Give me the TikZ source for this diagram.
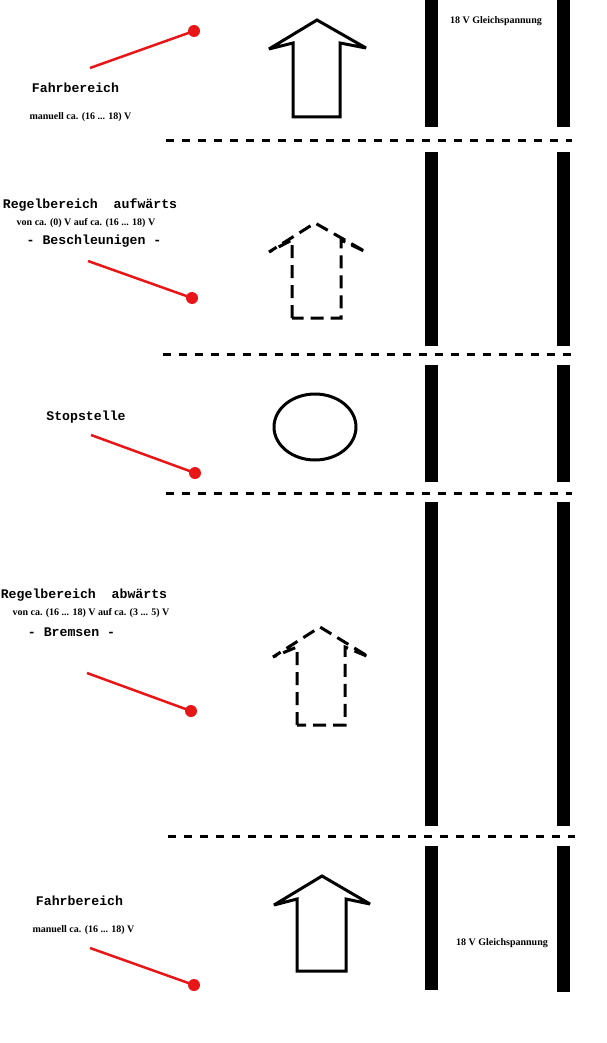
\documentclass[tikz,border=0pt]{standalone}
\usepackage{fontspec}
\setmainfont{Liberation Serif}
\newfontfamily\lmono{Liberation Mono}
\definecolor{ptr}{RGB}{232,22,22}
\begin{document}
\begin{tikzpicture}[x=1pt,y=-1pt,
  rail/.style={fill=black,draw=none},
  sep/.style={line width=3pt,dash pattern=on 8pt off 8pt},
  bigarrow/.style={line width=3pt,line join=miter,miter limit=2.5},
  dasharrow/.style={line width=3pt,dash pattern=on 13pt off 7pt,miter limit=2.5},
  pointer/.style={ptr,line width=2.5pt},
  dot/.style={circle,fill=ptr,inner sep=0pt,minimum size=12pt},
  mono/.style={font=\lmono\bfseries\fontsize{13.2}{15}\selectfont,inner sep=0pt},
  small/.style={font=\bfseries\fontsize{10}{12}\selectfont,inner sep=0pt}]
\useasboundingbox (0,0) rectangle (606,1043);
% rails
\foreach \a/\b in {0/127,152/346,365/482,502/826,846/990}{
  \fill[rail] (425,\a) rectangle (438,\b);}
\foreach \a/\b in {0/127,152/346,365/482,502/826,846/992}{
  \fill[rail] (557,\a) rectangle (570,\b);}
% separators
\coordinate (s1a) at (166,141); \coordinate (s1b) at (572,141);
\coordinate (s2a) at (163,354); \coordinate (s2b) at (572,354);
\coordinate (s3a) at (166,493); \coordinate (s3b) at (572,493);
\coordinate (s4a) at (168,836); \coordinate (s4b) at (575,836);
\draw[sep] (s1a) -- (s1b);
\draw[sep] (s2a) -- (s2b);
\draw[sep] (s3a) -- (s3b);
\draw[sep] (s4a) -- (s4b);
% arrows
\draw[bigarrow] (293,117) -- (293,43) -- (269,49) -- (317,20) -- (366,48) -- (340,43) -- (340,117) -- cycle;
\draw[dasharrow] (292,318) -- (292,240) -- (269,252) -- (315,223) -- (366,252) -- (341,240) -- (341,318) -- cycle;
\draw[line width=3pt] (315,427) ellipse [x radius=41,y radius=33];
\draw[dasharrow] (297,725) -- (297,647) -- (273,657) -- (320,627) -- (369,657) -- (345,647) -- (345,725) -- cycle;
\draw[bigarrow] (297,971) -- (297,899) -- (274,905) -- (322,876) -- (370,904) -- (346,899) -- (346,971) -- cycle;
% labels
\node[mono] (t1) at (75.5,88) {Fahrbereich};
\node[small] (t1b) at (80.5,117) {manuell ca. (16 ... 18) V};
\node[small] (r1) at (496,21) {18 V Gleichspannung};
\node[mono] (t2) at (90,205) {Regelbereich\ \ aufwärts};
\node[small] (t2b) at (86,223) {von ca. (0) V auf ca. (16 ... 18) V};
\node[mono] (t2c) at (94,241) {- Beschleunigen -};
\node[mono] (t3) at (86,417) {Stopstelle};
\node[mono] (t4) at (84,595) {Regelbereich\ \ abwärts};
\node[small] (t4b) at (91,613) {von ca. (16 ... 18) V auf ca. (3 ... 5) V};
\node[mono] (t4c) at (71.5,632) {- Bremsen -};
\node[mono] (t5) at (79.5,901) {Fahrbereich};
\node[small] (t5b) at (83.5,930) {manuell ca. (16 ... 18) V};
\node[small] (r5) at (502,943) {18 V Gleichspannung};
% pointers
\node[dot] (d1) at (194,31) {};
\node[dot] (d2) at (192,298) {};
\node[dot] (d3) at (195,473) {};
\node[dot] (d4) at (191,711) {};
\node[dot] (d5) at (194,985) {};
\coordinate (p1) at (90,68);
\coordinate (p2) at (88,261);
\coordinate (p3) at (91,435);
\coordinate (p4) at (87,673);
\coordinate (p5) at (90,948);
\draw[pointer] (p1) -- (d1.center);
\draw[pointer] (p2) -- (d2.center);
\draw[pointer] (p3) -- (d3.center);
\draw[pointer] (p4) -- (d4.center);
\draw[pointer] (p5) -- (d5.center);
\end{tikzpicture}
\end{document}
